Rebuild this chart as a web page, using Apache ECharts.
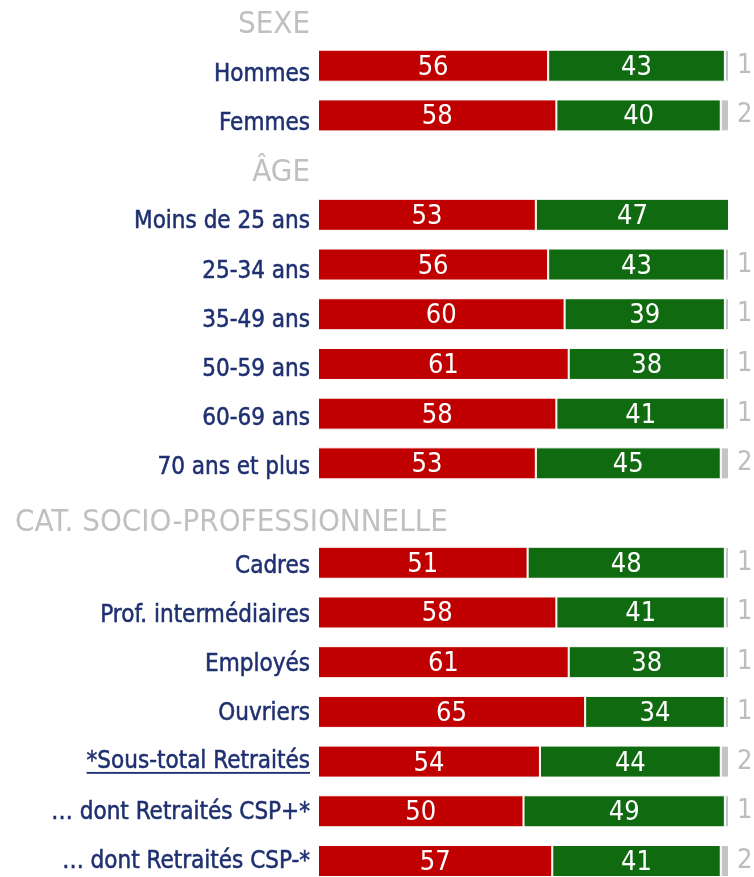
<!DOCTYPE html>
<html>
<head>
<meta charset="utf-8">
<script src="https://cdn.jsdelivr.net/npm/echarts@6/dist/echarts.min.js"></script>
<style>
  html, body { margin: 0; padding: 0; background: #fff; }
  #chart { width: 754px; height: 877px; }
</style>
</head>
<body>
<div id="chart"></div>
<script>
const categories = ['SEXE', 'Hommes', 'Femmes', 'ÂGE', 'Moins de 25 ans', '25-34 ans', '35-49 ans', '50-59 ans', '60-69 ans', '70 ans et plus',
    'CAT. SOCIO-PROFESSIONNELLE', 'Cadres', 'Prof. intermédiaires', 'Employés', 'Ouvriers', '*Sous-total Retraités', '… dont Retraités CSP+*', '… dont Retraités CSP-*']
const headers = ['SEXE', 'ÂGE', 'CAT. SOCIO-PROFESSIONNELLE']
const redValues = [null, 56, 58, null, 53, 56, 60, 61, 58, 53, null, 51, 58, 61, 65, 54, 50, 57]
const greenValues = [null, 43, 40, null, 47, 43, 39, 38, 41, 45, null, 48, 41, 38, 34, 44, 49, 41]
const greyValues = [null, 1, 2, null, 0, 1, 1, 1, 1, 2, null, 1, 1, 1, 1, 2, 1, 2]

const FONT = '"Liberation Sans Narrow", "DejaVu Sans Condensed", sans-serif'
const NAVY = '#1f3070'
const GREY_TXT = '#c0c0c0'

// petit canvas pour souligner "*Sous-total Retraités"
const ul = document.createElement('canvas')
ul.width = 4
ul.height = 30
const ctx = ul.getContext('2d')
ctx.fillStyle = NAVY
ctx.fillRect(0, 26, 4, 2)

const myChart = echarts.init(document.getElementById('chart'))

const barLabel = {
    show: true,
    position: 'inside',
    offset: [0, 2],
    color: '#fff',
    fontFamily: FONT,
    fontSize: 27,
    formatter: p => (p.value ? p.value : '')
}

const rowText = { fontFamily: FONT, fontSize: 24, color: NAVY, textBorderColor: NAVY, textBorderWidth: 0.5 }

myChart.setOption({
    animation: false,
    grid: [
        { left: 318, right: 25, top: 16, bottom: 16 },   // barres
        { left: 318, right: 25, top: 24, bottom: 17 }    // libellés
    ],
    xAxis: [
        { type: 'value', min: 0, max: 100, show: false, gridIndex: 0 },
        { type: 'value', min: 0, max: 100, show: false, gridIndex: 1 }
    ],
    yAxis: [
        {
            type: 'category',
            gridIndex: 0,
            inverse: true,
            boundaryGap: false,
            data: categories,
            axisLine: { show: false },
            axisTick: { show: false },
            axisLabel: { show: false }
        },
        {
            type: 'category',
            gridIndex: 1,
            inverse: true,
            boundaryGap: false,
            data: categories,
            axisLine: { show: false },
            axisTick: { show: false },
            axisLabel: {
                interval: 0,
                margin: 8,
                formatter: v => {
                    if (v === 'CAT. SOCIO-PROFESSIONNELLE') return ''
                    if (headers.includes(v)) return '{h|' + v + '}'
                    if (v === '*Sous-total Retraités') return '{u|' + v + '}'
                    return '{n|' + v + '}'
                },
                rich: {
                    n: Object.assign({ padding: [3, 0, 0, 0] }, rowText),
                    u: Object.assign({ lineHeight: 26, padding: [2, 0, 2, 0], backgroundColor: { image: ul } }, rowText),
                    h: { fontFamily: FONT, fontSize: 31, color: GREY_TXT, padding: [2, 0, 0, 0] }
                }
            }
        },
        {
            // titre CSP aligné à gauche
            type: 'category',
            gridIndex: 1,
            inverse: true,
            boundaryGap: false,
            position: 'left',
            data: categories,
            axisLine: { show: false },
            axisTick: { show: false },
            axisLabel: {
                interval: 0,
                align: 'left',
                margin: 303,
                formatter: v => (v === 'CAT. SOCIO-PROFESSIONNELLE' ? '{h|' + v + '}' : ''),
                rich: {
                    h: { fontFamily: FONT, fontSize: 31, color: GREY_TXT, padding: [14, 0, 0, 0] }
                }
            }
        }
    ],
    series: [
        {
            type: 'bar',
            stack: 'tot',
            barWidth: 32,
            data: redValues,
            itemStyle: { color: '#c00000', borderColor: '#fff', borderWidth: 1 },
            label: barLabel
        },
        {
            type: 'bar',
            stack: 'tot',
            barWidth: 32,
            data: greenValues,
            itemStyle: { color: '#106b10', borderColor: '#fff', borderWidth: 1 },
            label: barLabel
        },
        {
            type: 'bar',
            stack: 'tot',
            barWidth: 32,
            data: greyValues,
            itemStyle: { color: '#c4c4c4', borderColor: '#fff', borderWidth: 1 },
            label: {
                show: true,
                position: 'right',
                distance: 8,
                color: '#bdbdbd',
                fontFamily: FONT,
                fontSize: 27,
                formatter: p => (p.value ? p.value : '')
            }
        }
    ]
})

window.addEventListener('resize', () => {
    myChart.resize()
})
</script>
</body>
</html>
